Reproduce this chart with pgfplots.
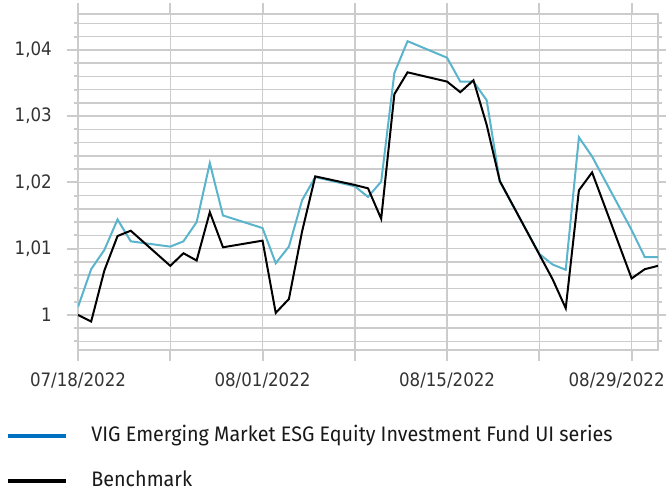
\documentclass[border=0pt]{standalone}
\usepackage{fontspec}
\usepackage{pgfplots}
\pgfplotsset{compat=1.18}
\setmainfont{Fira Sans}
\newfontfamily\legendfont[FakeStretch=0.94]{Fira Sans}
\newfontfamily\tickfont[FakeStretch=0.9]{DejaVu Sans}
\definecolor{fundline}{HTML}{5AB4CC}
\definecolor{fundlegend}{HTML}{0070C0}
\definecolor{gridc}{HTML}{CCCCCC}
\definecolor{tickc}{HTML}{333333}
\begin{document}
\begin{tikzpicture}
\useasboundingbox (0,0) rectangle (666pt,491pt);
\begin{axis}[
  at={(78pt,141pt)}, anchor=south west,
  scale only axis, width=580pt, height=336pt,
  xmin=0, xmax=44, ymin=0.9947, ymax=1.0454,
  xtick={0,7,14,21,28,35,42},
  xticklabels={07/18/2022,,08/01/2022,,08/15/2022,,\hspace*{-30pt}08/29/2022},
  ytick={1,1.01,1.02,1.03,1.04},
  minor ytick={0.996,0.998,1.002,1.004,1.006,1.008,1.012,1.014,1.016,1.018,1.022,1.024,1.026,1.028,1.032,1.034,1.036,1.038,1.042,1.044},
  yticklabel={\pgfmathprintnumber[use comma,fixed,precision=2]{\tick}},
  /pgf/number format/assume math mode=true,
  tick label style={font=\tickfont\fontsize{18.5}{20}\selectfont, text=tickc},
  xticklabel style={inner sep=0pt, anchor=north, yshift=-12pt},
  yticklabel style={inner sep=0pt, anchor=east, xshift=-15pt},
  grid=both,
  major grid style={gridc, line width=1.5pt},
  minor grid style={gridc, line width=1.5pt},
  axis line style={gridc, line width=2.5pt},
  tick align=outside,
  major tick length=11pt, minor tick length=4pt,
  tick style={gridc, line width=2pt},
  legend style={at={(axis description cs:-0.1241,-0.229)}, anchor=north west,
    draw=none, fill=none, inner sep=0pt, row sep=27pt, column sep=0pt,
    font=\legendfont\fontsize{21}{24}\selectfont,
    nodes={inner sep=0pt, text height=14pt, text depth=4pt, text=black!90}},
  legend cell align=left,
  legend image code/.code={\draw[#1, line width=4pt] (0pt,0pt) -- (58pt,0pt); \path (83pt,0pt);},
]
\addlegendimage{fundlegend}
\addlegendentry{VIG Emerging Market ESG Equity Investment Fund UI series}
\addlegendimage{black}
\addlegendentry{Benchmark}
\addplot[fundline, line width=2pt, forget plot] coordinates {
(0,1.0012) (1,1.0069) (2,1.0098) (3,1.0144) (4,1.0111)
(7,1.0103) (8,1.0111) (9,1.0140) (10,1.0229) (11,1.0150)
(14,1.0131) (15,1.0078) (16,1.0103) (17,1.0173) (18,1.0208)
(21,1.0194) (22,1.0178) (23,1.0201) (24,1.0365) (25,1.0413)
(28,1.0388) (29,1.0352) (30,1.0352) (31,1.0324) (32,1.0201)
(35,1.0092) (36,1.0076) (37,1.0068) (38,1.0268) (39,1.0239)
(42,1.0128) (43,1.0087) (44,1.0087)
};
\addplot[black, line width=2pt, forget plot] coordinates {
(0,1.0000) (1,0.9990) (2,1.0067) (3,1.0119) (4,1.0127)
(7,1.0074) (8,1.0093) (9,1.0082) (10,1.0155) (11,1.0102)
(14,1.0112) (15,1.0003) (16,1.0024) (17,1.0126) (18,1.0209)
(21,1.0196) (22,1.0191) (23,1.0145) (24,1.0333) (25,1.0366)
(28,1.0352) (29,1.0336) (30,1.0354) (31,1.0287) (32,1.0202)
(35,1.0091) (36,1.0054) (37,1.0010) (38,1.0188) (39,1.0215)
(42,1.0055) (43,1.0069) (44,1.0074)
};
\end{axis}
\end{tikzpicture}
\end{document}
